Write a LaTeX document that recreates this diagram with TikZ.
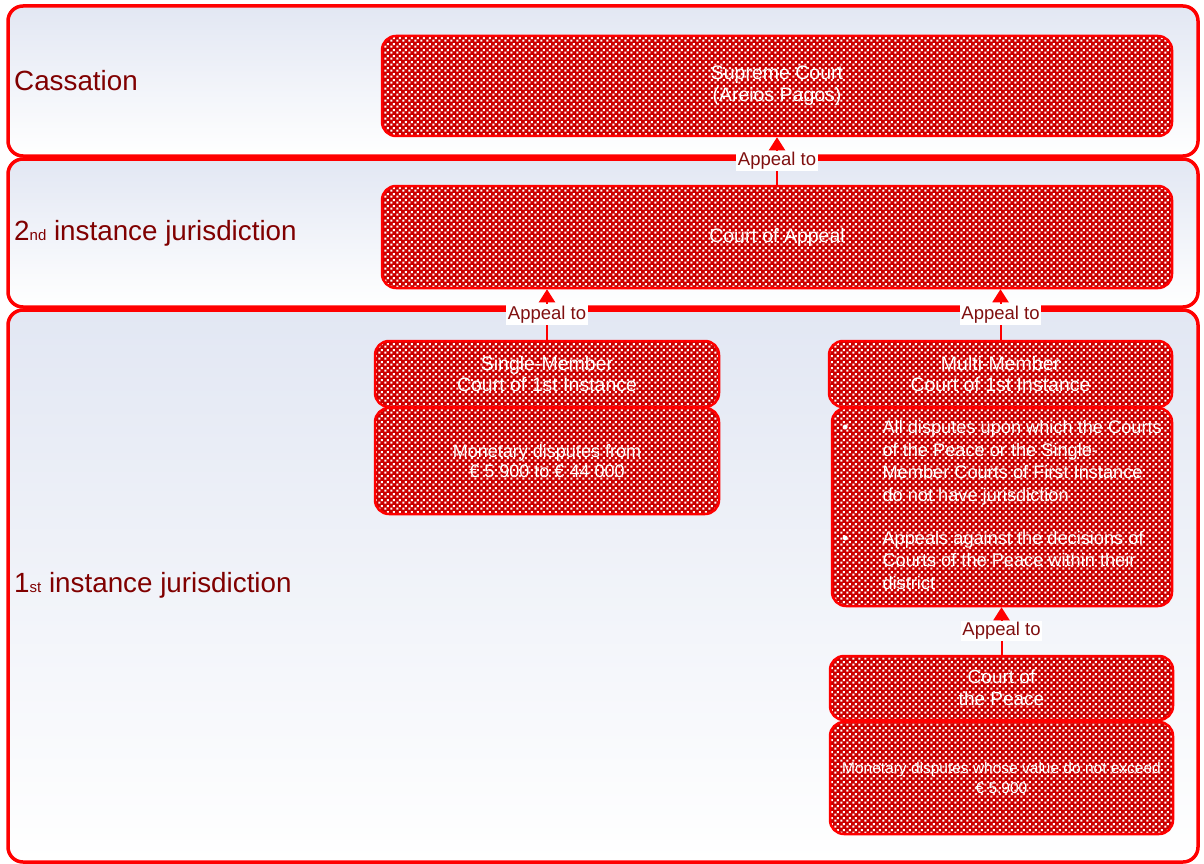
\documentclass[tikz,border=0pt]{standalone}
\usepackage{fontspec}
\setmainfont{Liberation Sans}
\usetikzlibrary{patterns,arrows.meta}
\pgfdeclarepatternformonly{checks}{\pgfqpoint{0pt}{0pt}}{\pgfqpoint{6pt}{6pt}}{\pgfqpoint{6pt}{6pt}}{%
  \pgfpathrectangle{\pgfqpoint{0.3pt}{0.3pt}}{\pgfqpoint{2.4pt}{2.4pt}}%
  \pgfpathrectangle{\pgfqpoint{3.3pt}{3.3pt}}{\pgfqpoint{2.4pt}{2.4pt}}%
  \pgfusepath{fill}}
\definecolor{bordred}{RGB}{255,0,0}
\definecolor{checkred}{RGB}{204,0,0}
\definecolor{lvlred}{RGB}{128,0,0}
\definecolor{labred}{RGB}{128,16,16}
\definecolor{panelblue}{RGB}{226,231,243}
\begin{document}
\begin{tikzpicture}[x=1pt,y=-1pt,
  panel/.style={draw=bordred, line width=3.5pt, rounded corners=15pt,
    top color=panelblue, bottom color=white, inner sep=0pt},
  lvl/.style={text=lvlred, font=\fontsize{27.8}{32}\selectfont, inner sep=0pt},
  court/.style={draw=bordred, line width=2.5pt, rounded corners=14pt,
    preaction={fill=checkred}, pattern=checks, pattern color=white,
    text=white, align=center, inner sep=0pt},
  arr/.style={draw=bordred, line width=2pt, -{Triangle[width=16pt,length=13pt]}},
  lab/.style={fill=white, text=labred, font=\fontsize{18.5}{18.5}\selectfont, inner sep=1.5pt}
]
\useasboundingbox (0,0) rectangle (1204,864);

% level panels
\node[panel, minimum width=1190pt, minimum height=150pt] (pc) at (603,81) {};
\node[panel, minimum width=1190pt, minimum height=148pt] (p2) at (603,233) {};
\node[panel, minimum width=1190pt, minimum height=552pt] (p1) at (603,586) {};

\node[lvl, anchor=west] (lc) at (14,81) {Cassation};
\node[lvl, anchor=west] (l2) at (14,233) {2{\fontsize{15}{15}\selectfont nd} instance jurisdiction};
\node[lvl, anchor=west] (l1) at (14,585) {1{\fontsize{15}{15}\selectfont st} instance jurisdiction};

% courts
\node[court, minimum width=790pt, minimum height=100pt, font=\fontsize{19.5}{22}\selectfont] (sc) at (777,86) {Supreme Court\\(Areios Pagos)};
\node[court, minimum width=790pt, minimum height=102pt, font=\fontsize{19.5}{22}\selectfont] (coa) at (777,237) {Court of Appeal};

\node[court, minimum width=344pt, minimum height=66pt, font=\fontsize{19.5}{21}\selectfont] (sm) at (547,374) {Single-Member\\Court of 1st Instance};
\node[court, minimum width=344pt, minimum height=106pt, font=\fontsize{18}{20}\selectfont] (smd) at (547,461) {Monetary disputes from\\€ 5.900 to € 44.000};

\node[court, minimum width=343pt, minimum height=66pt, font=\fontsize{19.5}{21}\selectfont] (mm) at (1000.5,374) {Multi-Member\\Court of 1st Instance};
\node[court, minimum width=340pt, minimum height=198pt, font=\fontsize{18.2}{22.7}\selectfont, align=left] (mmd) at (1002,507) {%
\begin{tabular}{@{}l@{\hspace{34pt}}l@{}}
\textbullet & All disputes upon which the Courts\\
 & of the Peace or the Single-\\
 & Member Courts of First Instance\\
 & do not have jurisdiction\\[20pt]
\textbullet & Appeals against the decisions of\\
 & Courts of the Peace within their\\
 & district
\end{tabular}};

\node[court, minimum width=343pt, minimum height=64pt, font=\fontsize{19}{22}\selectfont] (cp) at (1001.5,688) {Court of\\the Peace};
\node[court, minimum width=343pt, minimum height=112pt, font=\fontsize{15.5}{20}\selectfont] (cpd) at (1001.5,778) {Monetary disputes whose value do not exceed\\€ 5.900};

% appeals
\draw[arr] (coa.north) -- node[lab] (a1) {Appeal to} (sc.south);
\draw[arr] (sm.north) -- node[lab] (a2) {Appeal to} (sm.north |- coa.south);
\draw[arr] (mm.north) -- node[lab] (a3) {Appeal to} (mm.north |- coa.south);
\draw[arr] (cp.north) -- node[lab] (a4) {Appeal to} (cp.north |- mmd.south);
\end{tikzpicture}
\end{document}
